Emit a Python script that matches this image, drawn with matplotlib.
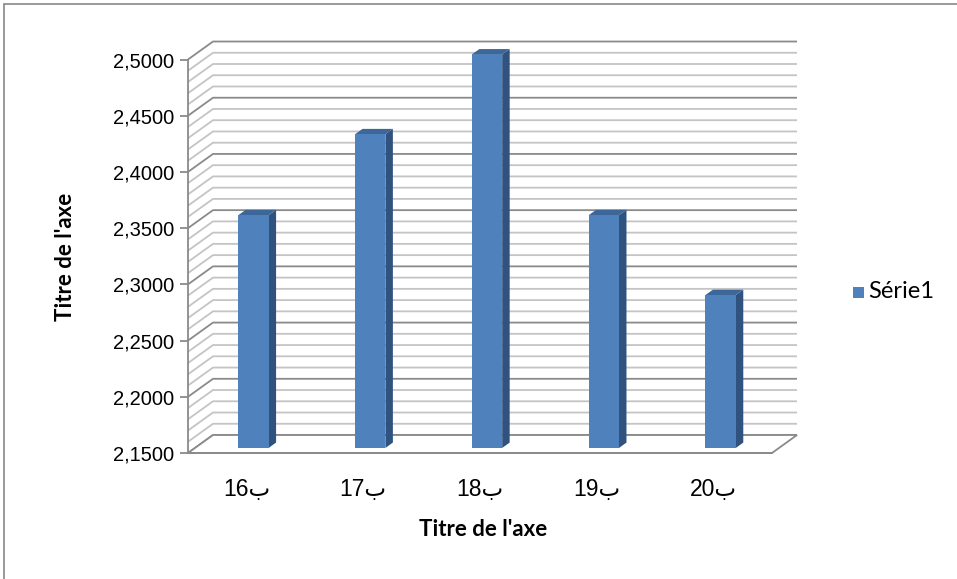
import matplotlib
matplotlib.use('Agg')
import matplotlib.pyplot as plt
from matplotlib.patches import Polygon, Rectangle
from matplotlib.ticker import MultipleLocator, FuncFormatter
import numpy as np

categories = ['16ب', '17ب', '18ب', '19ب', '20ب']
values = [2.357, 2.429, 2.500, 2.357, 2.286]
series_name = 'Série1'
axis_title = "Titre de l'axe"
y_min, y_max = 2.15, 2.50
grid_step = 0.01
major_step = 0.05

# pseudo 3d depth of the walls, in data units
DX, DY = 0.214, 0.016
bar_front, bar_back = 0.28, 0.58
bar_w = 0.26

front_col = '#4f81bd'
side_col = '#30527f'
top_col = '#3d6699'
major_col = '#8a8a8a'
minor_col = '#c4c4c4'

plt.rcParams['font.family'] = ['Liberation Sans', 'DejaVu Sans']

fig = plt.figure(figsize=(9.57, 5.79), dpi=100)
ax = fig.add_axes([188/957, 1-453/579, 584/957, 393.5/579])
ax.set_xlim(-0.5, len(categories)-0.5)
ax.set_ylim(y_min, y_max)
x0, x1 = ax.get_xlim()

# side wall, back wall gridlines
levels = np.round(np.arange(y_min, y_max + grid_step/2, grid_step), 4)
for y in levels:
    major = abs(y/major_step - round(y/major_step)) < 1e-6
    c = major_col if major else minor_col
    ax.plot([x0, x0+DX, x1+DX], [y, y+DY, y+DY], color=c, lw=1.3,
            clip_on=False, zorder=1, solid_capstyle='butt')

# floor
floor = Polygon([(x0, y_min), (x1, y_min), (x1+DX, y_min+DY), (x0+DX, y_min+DY)],
                closed=True, facecolor='white', edgecolor=major_col, lw=1.3,
                clip_on=False, zorder=2)
ax.add_patch(floor)

# bars: front face, right side, top
for i, v in enumerate(values):
    l = i - bar_w/2 + bar_front*DX
    r = i + bar_w/2 + bar_front*DX
    b = y_min + bar_front*DY
    t = v + bar_front*DY
    ddx = (bar_back - bar_front)*DX
    ddy = (bar_back - bar_front)*DY
    ax.add_patch(Polygon([(r, b), (r+ddx, b+ddy), (r+ddx, t+ddy), (r, t)],
                         facecolor=side_col, edgecolor='none', clip_on=False, zorder=3))
    ax.add_patch(Polygon([(l, t), (r, t), (r+ddx, t+ddy), (l+ddx, t+ddy)],
                         facecolor=top_col, edgecolor='none', clip_on=False, zorder=3))
    ax.add_patch(Rectangle((l, b), r-l, t-b, facecolor=front_col,
                           edgecolor='none', clip_on=False, zorder=4))

# axes
for s in ['top', 'right']:
    ax.spines[s].set_visible(False)
for s in ['left', 'bottom']:
    ax.spines[s].set_color(major_col)
    ax.spines[s].set_linewidth(1.3)
    ax.spines[s].set_zorder(5)
ax.patch.set_visible(False)

ax.yaxis.set_major_locator(MultipleLocator(major_step))
ax.yaxis.set_major_formatter(FuncFormatter(lambda v, p: f'{v:.4f}'.replace('.', ',')))
ax.tick_params(axis='y', length=6, width=1.3, color=major_col, labelsize=14.5, pad=4)
ax.set_xticks(range(len(categories)))
ax.set_xticklabels(categories)
ax.tick_params(axis='x', length=0, labelsize=16.5, pad=18)

fig.text(483/957, 1-530/579, axis_title, fontsize=16, fontweight='bold',
         family='Lato', ha='center', va='center')
fig.text(66/957, 1-257/579, axis_title, fontsize=16, fontweight='bold',
         family='Lato', ha='center', va='center', rotation=90)

# legend
fig.patches.append(Rectangle((853/957, 1-298/579), 11/957, 11/579,
                             transform=fig.transFigure, facecolor=front_col,
                             edgecolor='none'))
fig.text(868/957, 1-291/579, series_name, fontsize=17, family='Lato',
         va='center', ha='left')

# chart border
fig.patches.append(Rectangle((4/957, -0.1), 1.2, 1.1 - 4/579,
                             transform=fig.transFigure, facecolor='none',
                             edgecolor='#878787', lw=1.2))

fig.savefig('out.png', dpi=100)
